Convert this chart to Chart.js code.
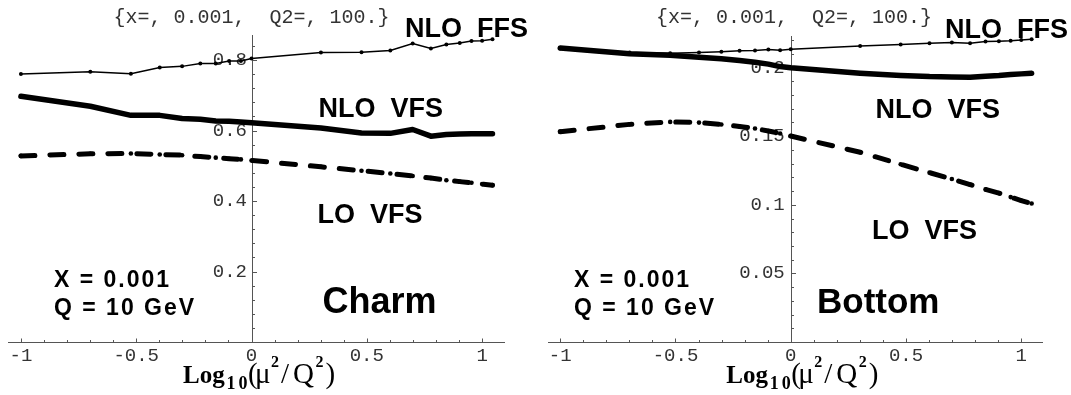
<!DOCTYPE html>
<html>
<head>
<title>Charm and Bottom scale dependence</title>
<script src="https://cdn.jsdelivr.net/npm/chart.js"></script>
<style>
body { margin: 0; background: #fff; }
.panel { position: absolute; top: 0; }
</style>
</head>
<body>
<div class="panel" style="left:0px"><canvas id="charm" width="540" height="395"></canvas></div>
<div class="panel" style="left:540px"><canvas id="bottom" width="531" height="395"></canvas></div>
<script>
// log10(mu^2/Q^2) of the computed points
const logScale = [-1, -0.699, -0.523, -0.398, -0.301, -0.222, -0.155, -0.097, -0.046, 0,
                  0.301, 0.477, 0.602, 0.699, 0.778, 0.845, 0.903, 0.954, 1, 1.045];

const charmFFS = [0.760, 0.767, 0.761, 0.779, 0.782, 0.790, 0.790, 0.797, 0.797, 0.804,
                  0.821, 0.822, 0.827, 0.847, 0.833, 0.844, 0.848, 0.854, 0.855, 0.859];
const charmVFS = [0.697, 0.669, 0.643, 0.643, 0.634, 0.632, 0.627, 0.626, 0.624, 0.622,
                  0.607, 0.593, 0.592, 0.603, 0.584, 0.589, 0.590, 0.591, 0.591, 0.591];
const charmLO  = [0.528, 0.534, 0.535, 0.532, 0.530, 0.526, 0.523, 0.520, 0.518, 0.515,
                  0.497, 0.486, 0.478, 0.471, 0.465, 0.459, 0.455, 0.452, 0.448, 0.445];

const bottomFFS = [0.2138, 0.2109, 0.2105, 0.2109, 0.2115, 0.2122, 0.2124, 0.2131, 0.2127, 0.2134,
                   0.2158, 0.2168, 0.2178, 0.2182, 0.2178, 0.2190, 0.2192, 0.2195, 0.2200, 0.2207];
const bottomVFS = [0.2142, 0.2100, 0.2090, 0.2076, 0.2064, 0.2051, 0.2039, 0.2025, 0.2007, 0.1998,
                   0.1959, 0.1942, 0.1934, 0.1932, 0.1930, 0.1937, 0.1942, 0.1949, 0.1954, 0.1959];
const bottomLO  = [0.1533, 0.1586, 0.1604, 0.1599, 0.1585, 0.1571, 0.1556, 0.1538, 0.1520, 0.1501,
                   0.1383, 0.1295, 0.1234, 0.1188, 0.1147, 0.1112, 0.1085, 0.1056, 0.1031, 0.1009];

const xTicks = [-1, -0.5, 0, 0.5, 1];
const charmYTicks = [0.2, 0.4, 0.6, 0.8];
const bottomYTicks = [0.05, 0.1, 0.15, 0.2];

const plotTitle = '{x=, 0.001,  Q2=, 100.}';
const curveNames = ['NLO  FFS', 'NLO  VFS', 'LO  VFS'];
const kinematics = ['X = 0.001', 'Q = 10 GeV'];

const SANS = '"Liberation Sans", Arial, sans-serif';
const MONO = '"Liberation Mono", "Courier New", monospace';
const SERIF = '"Liberation Serif", "Times New Roman", serif';

function pts(ys) {
  return ys.map((y, i) => ({ x: logScale[i], y: y }));
}

// y axis line, tick marks, panel texts and the axis label
function panelPlugin(p) {
  return {
    id: 'panelDecor',
    beforeDatasetsDraw(chart) {
      const ctx = chart.ctx;
      const xs = chart.scales.x, ys = chart.scales.y;
      const x0 = Math.round(xs.getPixelForValue(0)) + 0.5;
      const y0 = Math.round(ys.getPixelForValue(0)) + 0.5;
      ctx.save();
      ctx.strokeStyle = '#555';
      ctx.lineWidth = 1;
      ctx.beginPath();
      ctx.moveTo(x0, chart.chartArea.top);
      ctx.lineTo(x0, y0);
      for (let i = -10; i <= 10; i++) {
        if (i === 0) continue;
        const px = Math.round(xs.getPixelForValue(i / 10)) + 0.5;
        const len = i % 5 === 0 ? 4 : 2.5;
        ctx.moveTo(px, y0);
        ctx.lineTo(px, y0 - len);
      }
      for (let i = 1; i * p.yMinor <= ys.max; i++) {
        const py = Math.round(ys.getPixelForValue(i * p.yMinor)) + 0.5;
        const len = i % 5 === 0 ? 4.5 : 2.5;
        ctx.moveTo(x0, py);
        ctx.lineTo(x0 + len, py);
      }
      ctx.stroke();

      p.texts.forEach(t => {
        ctx.font = t.font;
        ctx.textAlign = t.align || 'left';
        ctx.textBaseline = t.baseline || 'alphabetic';
        ctx.letterSpacing = t.spacing || '0px';
        ctx.fillStyle = t.color || '#000';
        ctx.fillText(t.text, t.x, t.y);
      });
      ctx.letterSpacing = '0px';

      // Log10(mu^2/Q^2)
      const bx = p.axisLabelX, by = 382.5;
      const parts = [
        ['Log', 'bold 25px ' + SERIF, 0, 0, '0px'],
        ['10', 'bold 18px ' + SERIF, 43.5, 6, '3px'],
        ['(', '29px ' + SERIF, 65, 0, '0px'],
        ['\u03bc', '29px ' + SERIF, 72, 0, '0px'],
        ['2', 'bold 16px ' + SERIF, 88, -16, '0px'],
        ['/', '29px ' + SERIF, 98, 0, '0px'],
        ['Q', '29px ' + SERIF, 110, 0, '0px'],
        ['2', 'bold 16px ' + SERIF, 132.5, -16, '0px'],
        [')', '29px ' + SERIF, 142.5, 0, '0px']
      ];
      ctx.textAlign = 'left';
      ctx.textBaseline = 'alphabetic';
      ctx.fillStyle = '#000';
      parts.forEach(([s, f, dx, dy, ls]) => {
        ctx.font = f;
        ctx.letterSpacing = ls;
        ctx.fillText(s, bx + dx, by + dy);
      });
      ctx.letterSpacing = '0px';
      ctx.restore();
    }
  };
}

function makePanel(id, cfg) {
  const ctx = document.getElementById(id).getContext('2d');
  return new Chart(ctx, {
    type: 'line',
    data: {
      datasets: [
        {
          label: curveNames[0],
          data: pts(cfg.ffs),
          borderColor: '#000',
          borderWidth: 1.5,
          pointRadius: 2,
          pointBackgroundColor: '#000',
          pointBorderWidth: 0,
          tension: 0,
        },
        {
          label: curveNames[1],
          data: pts(cfg.vfs),
          borderColor: '#000',
          borderWidth: 5.5,
          borderJoinStyle: 'round',
          borderCapStyle: 'round',
          pointRadius: 0,
          tension: 0,
        },
        {
          label: curveNames[2],
          data: pts(cfg.lo),
          borderColor: '#000',
          borderWidth: 5,
          borderDash: [14, 15],
          borderCapStyle: 'round',
          pointRadius: 2.3,
          pointBackgroundColor: '#000',
          pointBorderWidth: 0,
          tension: 0,
        },
      ],
    },
    options: {
      responsive: false,
      animation: false,
      devicePixelRatio: 1,
      layout: { padding: cfg.pad },
      plugins: { legend: { display: false }, tooltip: { enabled: false } },
      scales: {
        x: {
          type: 'linear',
          position: { y: 0 },
          min: cfg.xMin,
          max: cfg.xMax,
          afterFit: s => { s.height = 0; },
          afterBuildTicks: s => { s.ticks = xTicks.map(v => ({ value: v })); },
          grid: { display: false, drawTicks: false },
          border: { display: true, color: '#555', width: 1 },
          ticks: {
            autoSkip: false,
            maxRotation: 0,
            padding: 3,
            color: '#333',
            font: { family: MONO, size: 19 },
            callback: v => String(v),
          },
        },
        y: {
          type: 'linear',
          // labels sit just left of the axis line drawn at x = 0
          position: { x: cfg.labelX },
          min: 0,
          max: cfg.yMax,
          afterFit: s => { s.width = 0; },
          afterBuildTicks: s => { s.ticks = cfg.yTicks.map(v => ({ value: v })); },
          grid: { display: false, drawTicks: false },
          border: { display: false },
          ticks: {
            autoSkip: false,
            color: '#333',
            font: { family: MONO, size: 19 },
            callback: v => String(v),
          },
        },
      },
    },
    plugins: [panelPlugin(cfg)],
  });
}

makePanel('charm', {
  ffs: charmFFS, vfs: charmVFS, lo: charmLO,
  xMin: -1.056, xMax: 1.095, yMax: 0.871, labelX: -0.0195,
  yTicks: charmYTicks, yMinor: 0.04,
  pad: { left: 8, right: 36, top: 35, bottom: 53 },
  axisLabelX: 183,
  texts: [
    { text: plotTitle, font: '20px ' + MONO, x: 251.5, y: 18, align: 'center', baseline: 'middle', color: '#333' },
    { text: curveNames[0], font: 'bold 27px ' + SANS, x: 405, y: 37.3 },
    { text: curveNames[1], font: 'bold 27px ' + SANS, x: 318.5, y: 117.3 },
    { text: curveNames[2], font: 'bold 27px ' + SANS, x: 317.5, y: 223.3 },
    { text: kinematics[0], font: 'bold 23px ' + SANS, x: 54, y: 287.3, spacing: '2px' },
    { text: kinematics[1], font: 'bold 23px ' + SANS, x: 54, y: 314.5, spacing: '2px' },
    { text: 'Charm', font: 'bold 36px ' + SANS, x: 322.5, y: 313.3 },
  ],
});

makePanel('bottom', {
  ffs: bottomFFS, vfs: bottomVFS, lo: bottomLO,
  xMin: -1.053, xMax: 1.09, yMax: 0.223, labelX: -0.026,
  yTicks: bottomYTicks, yMinor: 0.01,
  pad: { left: 8, right: 29, top: 36, bottom: 53 },
  axisLabelX: 186.3,
  texts: [
    { text: plotTitle, font: '20px ' + MONO, x: 254, y: 18, align: 'center', baseline: 'middle', color: '#333' },
    { text: curveNames[0], font: 'bold 27px ' + SANS, x: 405, y: 37.7 },
    { text: curveNames[1], font: 'bold 27px ' + SANS, x: 335.4, y: 118.3 },
    { text: curveNames[2], font: 'bold 27px ' + SANS, x: 332, y: 239.3 },
    { text: kinematics[0], font: 'bold 23px ' + SANS, x: 34, y: 287.3, spacing: '2px' },
    { text: kinematics[1], font: 'bold 23px ' + SANS, x: 34, y: 314.5, spacing: '2px' },
    { text: 'Bottom', font: 'bold 35px ' + SANS, x: 277, y: 312.7 },
  ],
});
</script>
</body>
</html>
